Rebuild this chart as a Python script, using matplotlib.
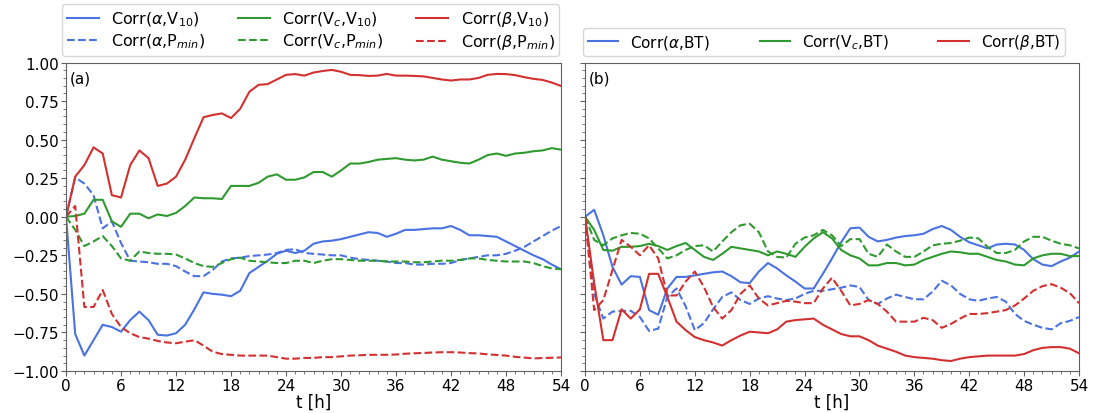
import numpy as np
import matplotlib
matplotlib.use("Agg")
import matplotlib.pyplot as plt
from matplotlib.ticker import MultipleLocator, AutoMinorLocator

# ---------------- data ----------------
hours = np.arange(0, 55)

# panel (a): correlations with V10 (solid) and Pmin (dashed)
alpha_v10 = [0.00, -0.76, -0.90, -0.80, -0.70, -0.715, -0.745, -0.67, -0.615, -0.67,
             -0.765, -0.77, -0.755, -0.70, -0.60, -0.49, -0.50, -0.505, -0.515, -0.48,
             -0.365, -0.325, -0.285, -0.24, -0.22, -0.235, -0.22, -0.175, -0.16, -0.155,
             -0.145, -0.13, -0.115, -0.10, -0.105, -0.13, -0.11, -0.085, -0.085, -0.08,
             -0.075, -0.075, -0.06, -0.085, -0.12, -0.12, -0.125, -0.13, -0.16, -0.19,
             -0.22, -0.25, -0.275, -0.31, -0.34]
vc_v10 = [0.00, 0.005, 0.02, 0.11, 0.11, -0.03, -0.065, 0.02, 0.02, -0.01,
          0.015, 0.005, 0.025, 0.07, 0.125, 0.12, 0.12, 0.115, 0.20, 0.20,
          0.20, 0.22, 0.26, 0.275, 0.24, 0.24, 0.255, 0.29, 0.29, 0.26,
          0.30, 0.345, 0.345, 0.355, 0.37, 0.375, 0.38, 0.37, 0.365, 0.37,
          0.39, 0.37, 0.36, 0.35, 0.345, 0.37, 0.40, 0.41, 0.395, 0.41,
          0.415, 0.425, 0.43, 0.445, 0.435]
beta_v10 = [0.00, 0.26, 0.335, 0.45, 0.41, 0.14, 0.125, 0.335, 0.43, 0.38,
            0.20, 0.215, 0.26, 0.37, 0.51, 0.645, 0.66, 0.67, 0.64, 0.70,
            0.81, 0.855, 0.86, 0.89, 0.92, 0.925, 0.915, 0.935, 0.945, 0.952,
            0.94, 0.92, 0.918, 0.913, 0.915, 0.926, 0.915, 0.915, 0.913, 0.91,
            0.90, 0.89, 0.883, 0.89, 0.89, 0.90, 0.92, 0.926, 0.925, 0.918,
            0.905, 0.894, 0.887, 0.87, 0.848]
alpha_pmin = [0.00, 0.255, 0.215, 0.14, -0.075, -0.03, -0.17, -0.285, -0.29, -0.295,
              -0.305, -0.305, -0.32, -0.355, -0.385, -0.385, -0.345, -0.29, -0.27, -0.265,
              -0.255, -0.25, -0.245, -0.235, -0.215, -0.21, -0.235, -0.24, -0.245, -0.25,
              -0.25, -0.265, -0.275, -0.28, -0.285, -0.29, -0.30, -0.30, -0.31, -0.31,
              -0.305, -0.305, -0.30, -0.28, -0.27, -0.26, -0.25, -0.25, -0.24, -0.22,
              -0.195, -0.16, -0.125, -0.09, -0.06]
vc_pmin = [0.00, -0.085, -0.19, -0.16, -0.125, -0.19, -0.27, -0.285, -0.225, -0.235,
           -0.24, -0.24, -0.245, -0.27, -0.30, -0.32, -0.325, -0.30, -0.275, -0.265,
           -0.285, -0.29, -0.295, -0.30, -0.30, -0.285, -0.285, -0.30, -0.285, -0.275,
           -0.275, -0.28, -0.285, -0.285, -0.285, -0.29, -0.29, -0.29, -0.295, -0.295,
           -0.29, -0.285, -0.285, -0.28, -0.27, -0.27, -0.28, -0.285, -0.29, -0.29,
           -0.29, -0.30, -0.32, -0.335, -0.34]
beta_pmin = [0.00, 0.07, -0.585, -0.585, -0.475, -0.63, -0.715, -0.755, -0.78, -0.79,
             -0.805, -0.815, -0.82, -0.81, -0.80, -0.835, -0.875, -0.89, -0.895, -0.90,
             -0.90, -0.90, -0.90, -0.91, -0.92, -0.92, -0.915, -0.915, -0.91, -0.91,
             -0.905, -0.90, -0.898, -0.895, -0.895, -0.895, -0.893, -0.888, -0.885, -0.883,
             -0.88, -0.878, -0.878, -0.88, -0.884, -0.886, -0.892, -0.896, -0.90, -0.908,
             -0.913, -0.918, -0.916, -0.914, -0.912]

# panel (b): correlations with BT (solid) and companion curves (dashed)
alpha_bt = [0.00, 0.045, -0.12, -0.325, -0.44, -0.385, -0.39, -0.605, -0.635, -0.465,
            -0.39, -0.39, -0.38, -0.37, -0.36, -0.355, -0.385, -0.425, -0.43, -0.355,
            -0.30, -0.335, -0.38, -0.42, -0.465, -0.465, -0.37, -0.27, -0.165, -0.075,
            -0.07, -0.13, -0.16, -0.15, -0.135, -0.125, -0.12, -0.11, -0.08, -0.06,
            -0.085, -0.13, -0.165, -0.185, -0.205, -0.18, -0.175, -0.18, -0.215, -0.275,
            -0.31, -0.32, -0.29, -0.265, -0.225]
vc_bt = [0.00, -0.085, -0.215, -0.22, -0.195, -0.195, -0.19, -0.175, -0.19, -0.215,
         -0.19, -0.17, -0.215, -0.26, -0.28, -0.24, -0.195, -0.205, -0.215, -0.225,
         -0.25, -0.225, -0.24, -0.26, -0.195, -0.14, -0.10, -0.14, -0.215, -0.25,
         -0.27, -0.315, -0.315, -0.30, -0.30, -0.315, -0.31, -0.28, -0.26, -0.24,
         -0.225, -0.23, -0.24, -0.24, -0.26, -0.28, -0.29, -0.31, -0.315, -0.27,
         -0.25, -0.24, -0.24, -0.255, -0.255]
beta_bt = [0.00, -0.43, -0.80, -0.80, -0.60, -0.66, -0.60, -0.37, -0.37, -0.52,
           -0.68, -0.735, -0.78, -0.80, -0.815, -0.835, -0.80, -0.77, -0.745, -0.75,
           -0.755, -0.73, -0.68, -0.67, -0.665, -0.66, -0.70, -0.73, -0.76, -0.775,
           -0.775, -0.80, -0.835, -0.855, -0.875, -0.90, -0.91, -0.915, -0.92, -0.93,
           -0.935, -0.92, -0.91, -0.905, -0.90, -0.90, -0.90, -0.90, -0.89, -0.865,
           -0.85, -0.845, -0.845, -0.855, -0.885]
alpha_bt_dash = [0.00, -0.50, -0.66, -0.615, -0.61, -0.61, -0.65, -0.74, -0.725, -0.52,
                 -0.465, -0.58, -0.735, -0.69, -0.60, -0.52, -0.49, -0.54, -0.565, -0.53,
                 -0.515, -0.53, -0.54, -0.53, -0.50, -0.48, -0.48, -0.47, -0.46, -0.445,
                 -0.455, -0.54, -0.565, -0.53, -0.505, -0.52, -0.535, -0.535, -0.485, -0.415,
                 -0.445, -0.50, -0.535, -0.545, -0.53, -0.52, -0.55, -0.63, -0.675, -0.70,
                 -0.72, -0.73, -0.69, -0.675, -0.65]
vc_bt_dash = [0.00, -0.15, -0.185, -0.14, -0.12, -0.105, -0.11, -0.14, -0.205, -0.27,
              -0.25, -0.215, -0.19, -0.185, -0.225, -0.16, -0.10, -0.055, -0.045, -0.10,
              -0.225, -0.26, -0.265, -0.175, -0.135, -0.12, -0.085, -0.12, -0.19, -0.145,
              -0.145, -0.24, -0.26, -0.18, -0.225, -0.26, -0.26, -0.225, -0.185, -0.175,
              -0.17, -0.155, -0.135, -0.14, -0.195, -0.235, -0.235, -0.215, -0.16, -0.13,
              -0.13, -0.155, -0.175, -0.185, -0.205]
beta_bt_dash = [0.00, -0.605, -0.54, -0.345, -0.15, -0.195, -0.25, -0.185, -0.27, -0.51,
                -0.51, -0.42, -0.355, -0.455, -0.585, -0.66, -0.605, -0.50, -0.445, -0.53,
                -0.575, -0.56, -0.545, -0.55, -0.56, -0.56, -0.465, -0.395, -0.48, -0.575,
                -0.565, -0.54, -0.565, -0.615, -0.68, -0.68, -0.68, -0.655, -0.67, -0.72,
                -0.695, -0.66, -0.63, -0.63, -0.625, -0.615, -0.605, -0.575, -0.53, -0.48,
                -0.45, -0.437, -0.46, -0.495, -0.56]

x_ticks = [0, 6, 12, 18, 24, 30, 36, 42, 48, 54]
y_ticks = [-1.00, -0.75, -0.50, -0.25, 0.00, 0.25, 0.50, 0.75, 1.00]

BLUE, GREEN, RED = "#4a72e0", "#2f9a2f", "#d33030"
LW = 1.5

plt.rcParams["font.family"] = "DejaVu Sans"
plt.rcParams["font.size"] = 11

fig = plt.figure(figsize=(10.97, 4.14), dpi=100)
ax1 = fig.add_axes([0.0602, 0.1014, 0.4512, 0.7452])
ax2 = fig.add_axes([0.5333, 0.1014, 0.4503, 0.7452])

# panel (a)
h = []
h += ax1.plot(hours, alpha_v10, color=BLUE, lw=LW, label=r"Corr($\alpha$,V$_{10}$)")
h += ax1.plot(hours, alpha_pmin, color=BLUE, lw=LW, ls="--", label=r"Corr($\alpha$,P$_{min}$)")
h += ax1.plot(hours, vc_v10, color=GREEN, lw=LW, label=r"Corr(V$_c$,V$_{10}$)")
h += ax1.plot(hours, vc_pmin, color=GREEN, lw=LW, ls="--", label=r"Corr(V$_c$,P$_{min}$)")
h += ax1.plot(hours, beta_v10, color=RED, lw=LW, label=r"Corr($\beta$,V$_{10}$)")
h += ax1.plot(hours, beta_pmin, color=RED, lw=LW, ls="--", label=r"Corr($\beta$,P$_{min}$)")

# panel (b)
g = []
g += ax2.plot(hours, alpha_bt, color=BLUE, lw=LW, label=r"Corr($\alpha$,BT)")
ax2.plot(hours, alpha_bt_dash, color=BLUE, lw=LW, ls="--")
g += ax2.plot(hours, vc_bt, color=GREEN, lw=LW, label=r"Corr(V$_c$,BT)")
ax2.plot(hours, vc_bt_dash, color=GREEN, lw=LW, ls="--")
g += ax2.plot(hours, beta_bt, color=RED, lw=LW, label=r"Corr($\beta$,BT)")
ax2.plot(hours, beta_bt_dash, color=RED, lw=LW, ls="--")

for ax, tag in ((ax1, "(a)"), (ax2, "(b)")):
    ax.set_xlim(0, 54)
    ax.set_ylim(-1, 1)
    ax.set_xticks(x_ticks)
    ax.set_yticks(y_ticks)
    ax.xaxis.set_minor_locator(MultipleLocator(1))
    ax.yaxis.set_minor_locator(AutoMinorLocator(5))
    ax.set_xlabel("t [h]", fontsize=12, labelpad=0)
    ax.text(0.008, 0.975, tag, transform=ax.transAxes, ha="left", va="top", fontsize=11)
    for s in ax.spines.values():
        s.set_color("#606060")
    ax.tick_params(which="both", color="#606060")
    ax.tick_params(which="major", length=3.5, pad=1.5)
    ax.tick_params(which="minor", length=2)

ax1.set_yticklabels([f"{v:.2f}".replace("-", "\u2212") for v in y_ticks])
ax2.tick_params(axis="y", labelleft=False)

fig.legend(handles=h, loc="lower left", ncol=3,
           bbox_to_anchor=(0.0565, 0.8625), bbox_transform=fig.transFigure,
           fontsize=11.5, borderaxespad=0.0, handlelength=2.0, labelspacing=0.25,
           borderpad=0.3, columnspacing=2.0)
fig.legend(handles=g, loc="lower left", ncol=3, mode="expand",
           bbox_to_anchor=(0.5315, 0.8625, 0.4394, 0.06), bbox_transform=fig.transFigure,
           fontsize=11, borderaxespad=0.0, handlelength=2.0, borderpad=0.3)

fig.savefig("out.png", dpi=100)
